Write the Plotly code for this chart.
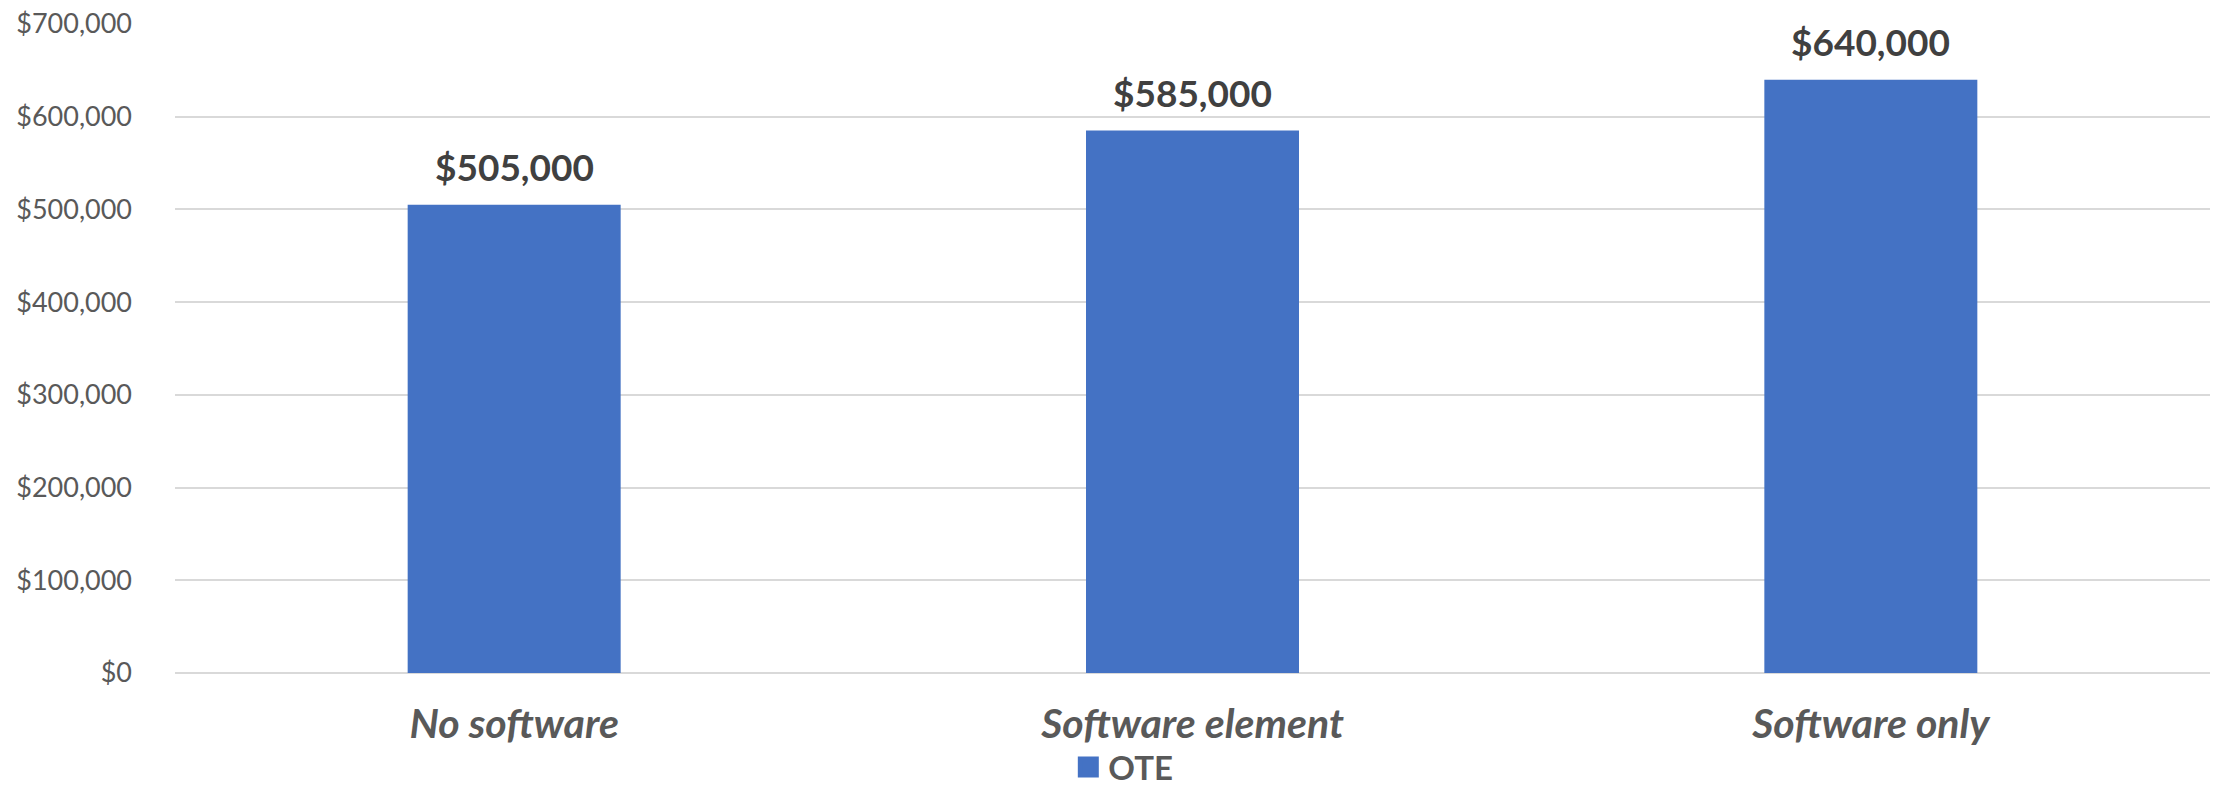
import plotly.graph_objects as go

# Chart data
categories = ["No software", "Software element", "Software only"]
ote_values = [505000, 585000, 640000]
series_name = "OTE"
y_tick_values = [0, 100000, 200000, 300000, 400000, 500000, 600000, 700000]
y_tick_labels = ["$0", "$100,000", "$200,000", "$300,000", "$400,000",
                 "$500,000", "$600,000", "$700,000"]

BAR_BLUE = "#4472C4"
FONT = "Lato, 'Open Sans', sans-serif"

fig = go.Figure()

fig.add_trace(go.Bar(
    x=categories,
    y=ote_values,
    name=series_name,
    marker=dict(color=BAR_BLUE, line=dict(width=0)),
    width=0.314,
    showlegend=False,
))

# Value labels above each bar, anchored at the bar's own value
for cat, val in zip(categories, ote_values):
    fig.add_annotation(
        x=cat, y=val, xref="x", yref="y",
        text=f"${val:,.0f}",
        showarrow=False,
        yanchor="middle",
        yshift=38,
        font=dict(family=FONT, size=37, color="#404040", weight="bold"),
    )

# Legend entry for the series (larger square swatch than the default bar glyph)
fig.add_trace(go.Scatter(
    x=[None], y=[None],
    mode="markers",
    name=series_name,
    marker=dict(symbol="square", size=16, color=BAR_BLUE,
                line=dict(color=BAR_BLUE, width=5)),
    showlegend=True,
))

fig.update_layout(
    width=2218,
    height=786,
    margin=dict(l=175, r=8, t=24, b=113, autoexpand=False),
    paper_bgcolor="white",
    plot_bgcolor="white",
    font=dict(family=FONT, color="#595959"),
    legend=dict(
        orientation="h",
        x=0.466, xanchor="center",
        y=-0.145, yanchor="middle",
        font=dict(family=FONT, size=33, color="#595959", weight="bold"),
        itemsizing="trace",
        bgcolor="rgba(0,0,0,0)",
        borderwidth=0,
    ),
    xaxis=dict(
        type="category",
        showgrid=False,
        showline=False,
        zeroline=False,
        ticks="",
        ticklabelstandoff=23,
        tickfont=dict(family=FONT, size=41, color="#595959",
                      weight="bold", style="italic"),
    ),
    yaxis=dict(
        range=[0, 700000],
        tickvals=y_tick_values,
        ticktext=y_tick_labels,
        showgrid=True,
        gridcolor="#D9D9D9",
        gridwidth=2,
        zeroline=True,
        zerolinecolor="#D9D9D9",
        zerolinewidth=2,
        showline=False,
        ticks="",
        ticklabelstandoff=42,
        tickfont=dict(family=FONT, size=27, color="#595959"),
    ),
    bargap=0.686,
)

fig.write_html("out.html")
